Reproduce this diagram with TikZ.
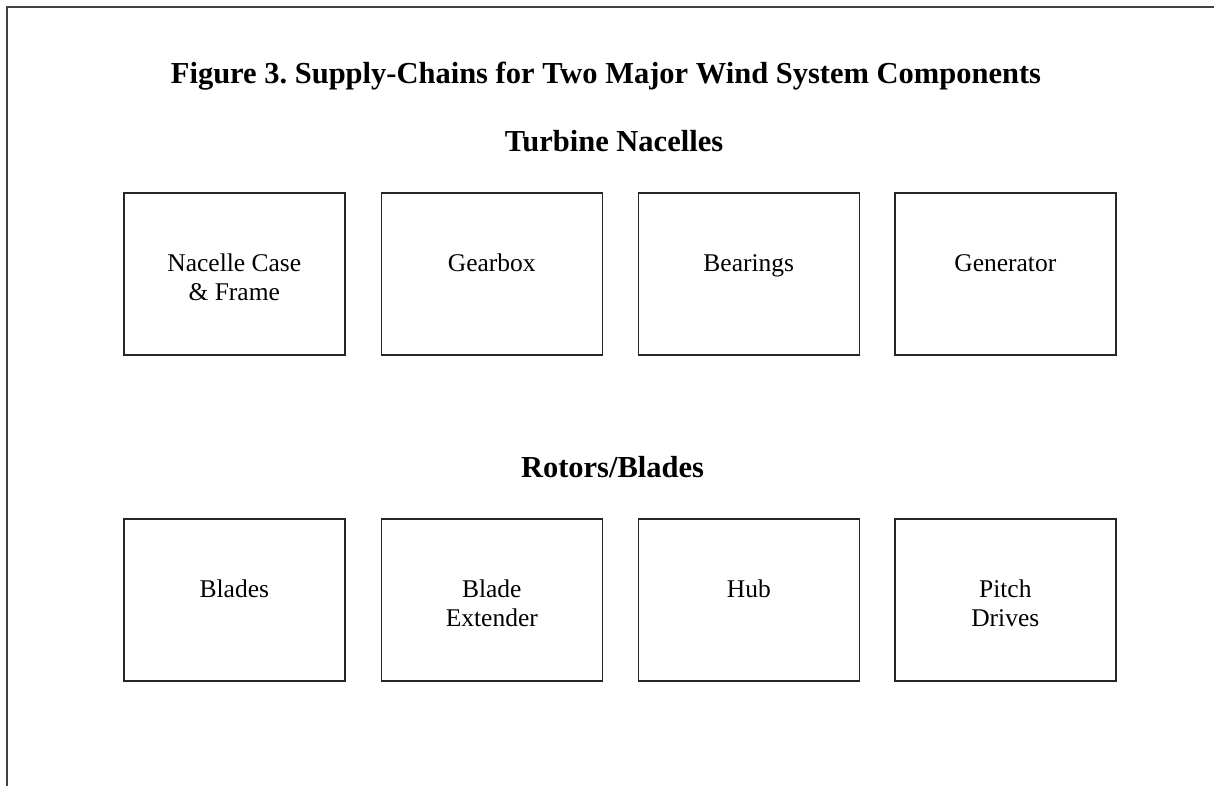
\documentclass[tikz,border=0pt]{standalone}
\usepackage{fontspec}
\setmainfont{Liberation Serif}
\frenchspacing
\begin{document}
\begin{tikzpicture}[x=1pt,y=-1pt,
  box/.style={draw=black!85,line width=1.6pt,minimum width=221pt,minimum height=162pt,inner sep=0pt,anchor=north west},
  boxtext/.style={font=\fontsize{25.5}{29}\selectfont,align=center,anchor=base,inner sep=0pt},
  heading/.style={font=\fontsize{30.5}{34}\selectfont\bfseries,anchor=base,inner sep=0pt},
  frameline/.style={draw=black!75,line width=1.6pt}]
\useasboundingbox (0,0) rectangle (1214,786);
\coordinate (ftr) at (1214,7);
\coordinate (ftl) at (7,7);
\coordinate (fbl) at (7,786);
\draw[frameline] (ftr) -- (ftl) -- (fbl);
\node[heading] (title) at (606,84) {Figure 3. Supply-Chains for Two Major Wind System Components};
\node[heading] (nac) at (614,152) {Turbine Nacelles};
\node[heading] (rot) at (612.5,477) {Rotors/Blades};
% top row
\node[box] (b1) at (123,192) {};
\node[box] (b2) at (380.5,192) {};
\node[box] (b3) at (637.5,192) {};
\node[box] (b4) at (894,192) {};
% bottom row
\node[box] (c1) at (123,518) {};
\node[box] (c2) at (380.5,518) {};
\node[box] (c3) at (637.5,518) {};
\node[box] (c4) at (894,518) {};
\node[boxtext] (t1) at ([yshift=-108pt]b1.north) {Nacelle Case\\\& Frame};
\node[boxtext] (t2) at ([yshift=-79pt]b2.north) {Gearbox};
\node[boxtext] (t3) at ([yshift=-79pt]b3.north) {Bearings};
\node[boxtext] (t4) at ([yshift=-79pt]b4.north) {Generator};
\node[boxtext] (u1) at ([yshift=-79pt]c1.north) {Blades};
\node[boxtext] (u2) at ([yshift=-108pt]c2.north) {Blade\\Extender};
\node[boxtext] (u3) at ([yshift=-79pt]c3.north) {Hub};
\node[boxtext] (u4) at ([yshift=-108pt]c4.north) {Pitch\\Drives};
\end{tikzpicture}
\end{document}
